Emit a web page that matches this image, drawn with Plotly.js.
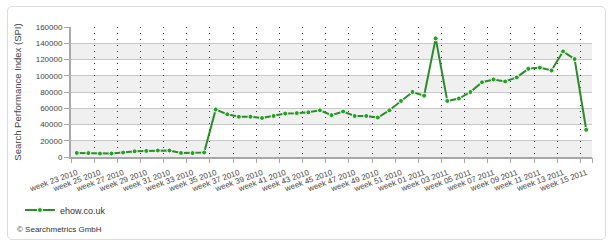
<!DOCTYPE html>
<html>
<head>
<meta charset="utf-8">
<script src="https://cdn.plot.ly/plotly-3.0.1.min.js"></script>
<style>
  html, body { margin: 0; padding: 0; background: #fff; }
  #wrap { position: relative; width: 616px; height: 247px; }
  #chart { width: 616px; height: 247px; }
  #frame { position: absolute; left: 7px; top: 6px; width: 599px; height: 234px;
           border: 1px solid #dcdcdc; border-radius: 5px; pointer-events: none; box-sizing: border-box; }
</style>
</head>
<body>
<div id="wrap">
  <div id="chart"></div>
  <div id="frame"></div>
</div>
<script>
const weeks = [
  'week 23 2010','week 24 2010','week 25 2010','week 26 2010','week 27 2010','week 28 2010',
  'week 29 2010','week 30 2010','week 31 2010','week 32 2010','week 33 2010','week 34 2010',
  'week 35 2010','week 36 2010','week 37 2010','week 38 2010','week 39 2010','week 40 2010',
  'week 41 2010','week 42 2010','week 43 2010','week 44 2010','week 45 2010','week 46 2010',
  'week 47 2010','week 48 2010','week 49 2010','week 50 2010','week 51 2010','week 52 2010',
  'week 01 2011','week 02 2011','week 03 2011','week 04 2011','week 05 2011','week 06 2011',
  'week 07 2011','week 08 2011','week 09 2011','week 10 2011','week 11 2011','week 12 2011',
  'week 13 2011','week 14 2011','week 15 2011'
];
const spi = [
  5000, 4800, 4300, 4300, 5500, 7000, 7500, 8000, 8000, 5000, 4800, 5500,
  58500, 52500, 49500, 49500, 48000, 50500, 53500, 54000, 55000, 57500, 51500, 56000,
  50500, 50500, 48500, 57500, 69000, 80000, 75500, 146000, 69000, 72000, 80000, 92000,
  95500, 93000, 98000, 108500, 110000, 106500, 130000, 120500, 33500
];
const tickLabels = [
  'week 23 2010','week 25 2010','week 27 2010','week 29 2010','week 31 2010','week 33 2010',
  'week 35 2010','week 37 2010','week 39 2010','week 41 2010','week 43 2010','week 45 2010',
  'week 47 2010','week 49 2010','week 51 2010','week 01 2011','week 03 2011','week 05 2011',
  'week 07 2011','week 09 2011','week 11 2011','week 13 2011','week 15 2011'
];
const seriesName = 'ehow.co.uk';
const yTicks = [0, 20000, 40000, 60000, 80000, 100000, 120000, 140000, 160000];

const xIdx = weeks.map((w, i) => i);
const labelPos = tickLabels.map(t => weeks.indexOf(t));
const boundaryPos = labelPos.map(p => p - 0.5).concat([weeks.length - 0.5]);

const font = 'Liberation Sans, Arial, Helvetica, sans-serif';

const bands = [];
for (let k = 0; k < yTicks.length - 1; k += 2) {
  bands.push({type: 'rect', xref: 'paper', yref: 'y', x0: 0, x1: 1,
    y0: yTicks[k], y1: yTicks[k + 1], fillcolor: '#f0f0f0', line: {width: 0}, layer: 'below'});
}

const traces = [
  {
    x: xIdx, y: spi, type: 'scatter', mode: 'lines+markers', name: seriesName,
    line: {color: '#2c8c2c', width: 2},
    marker: {color: '#22a322', size: 5, line: {color: '#ffffff', width: 1}},
    hoverinfo: 'x+y'
  },
  {
    x: [boundaryPos[0], boundaryPos[boundaryPos.length - 1]], y: [0, 0], xaxis: 'x2',
    type: 'scatter', mode: 'markers', marker: {opacity: 0}, showlegend: false, hoverinfo: 'skip'
  }
];

const layout = {
  width: 616, height: 247,
  margin: {l: 71, r: 24, t: 27, b: 90},
  paper_bgcolor: '#ffffff', plot_bgcolor: 'rgba(0,0,0,0)',
  font: {family: font, size: 8, color: '#444'},
  shapes: bands,
  xaxis: {
    range: [-0.5, weeks.length - 0.5],
    tickmode: 'array', tickvals: labelPos, ticktext: tickLabels,
    tickangle: -20, ticks: 'outside', ticklen: 6, tickcolor: 'rgba(0,0,0,0)',
    showgrid: false, zeroline: false,
    showline: true, linecolor: '#a8a8a8', linewidth: 2,
    tickfont: {family: font, size: 8, color: '#444'}
  },
  xaxis2: {
    overlaying: 'x', side: 'bottom', anchor: 'y',
    range: [-0.5, weeks.length - 0.5],
    tickmode: 'array', tickvals: boundaryPos, showticklabels: false,
    ticks: 'outside', ticklen: 5, tickcolor: '#a8a8a8', tickwidth: 1,
    showgrid: true, gridcolor: '#333333', gridwidth: 1, griddash: '1px,5px',
    zeroline: false, showline: false
  },
  yaxis: {
    range: [0, 160000], tickmode: 'array', tickvals: yTicks,
    ticktext: yTicks.map(v => String(v)),
    ticks: 'outside', ticklen: 5, tickcolor: '#a8a8a8',
    showgrid: true, gridcolor: '#c8c8c8', gridwidth: 1,
    zeroline: false, showline: true, linecolor: '#a8a8a8', linewidth: 2,
    tickfont: {family: font, size: 8, color: '#444'},
    title: {text: 'Search Performance Index (SPI)', font: {family: font, size: 9.5, color: '#444'}, standoff: 12}
  },
  showlegend: true,
  legend: {
    x: -0.098, y: -0.408, xanchor: 'left', yanchor: 'middle',
    font: {family: font, size: 9, color: '#333'}, bgcolor: 'rgba(0,0,0,0)'
  },
  annotations: [
    {text: '© Searchmetrics GmbH', xref: 'paper', yref: 'paper', x: -0.1075, y: -0.5615,
     xanchor: 'left', yanchor: 'middle', showarrow: false,
     font: {family: font, size: 8, color: '#333'}}
  ]
};

Plotly.newPlot('chart', traces, layout, {displayModeBar: false, staticPlot: true});
</script>
</body>
</html>
